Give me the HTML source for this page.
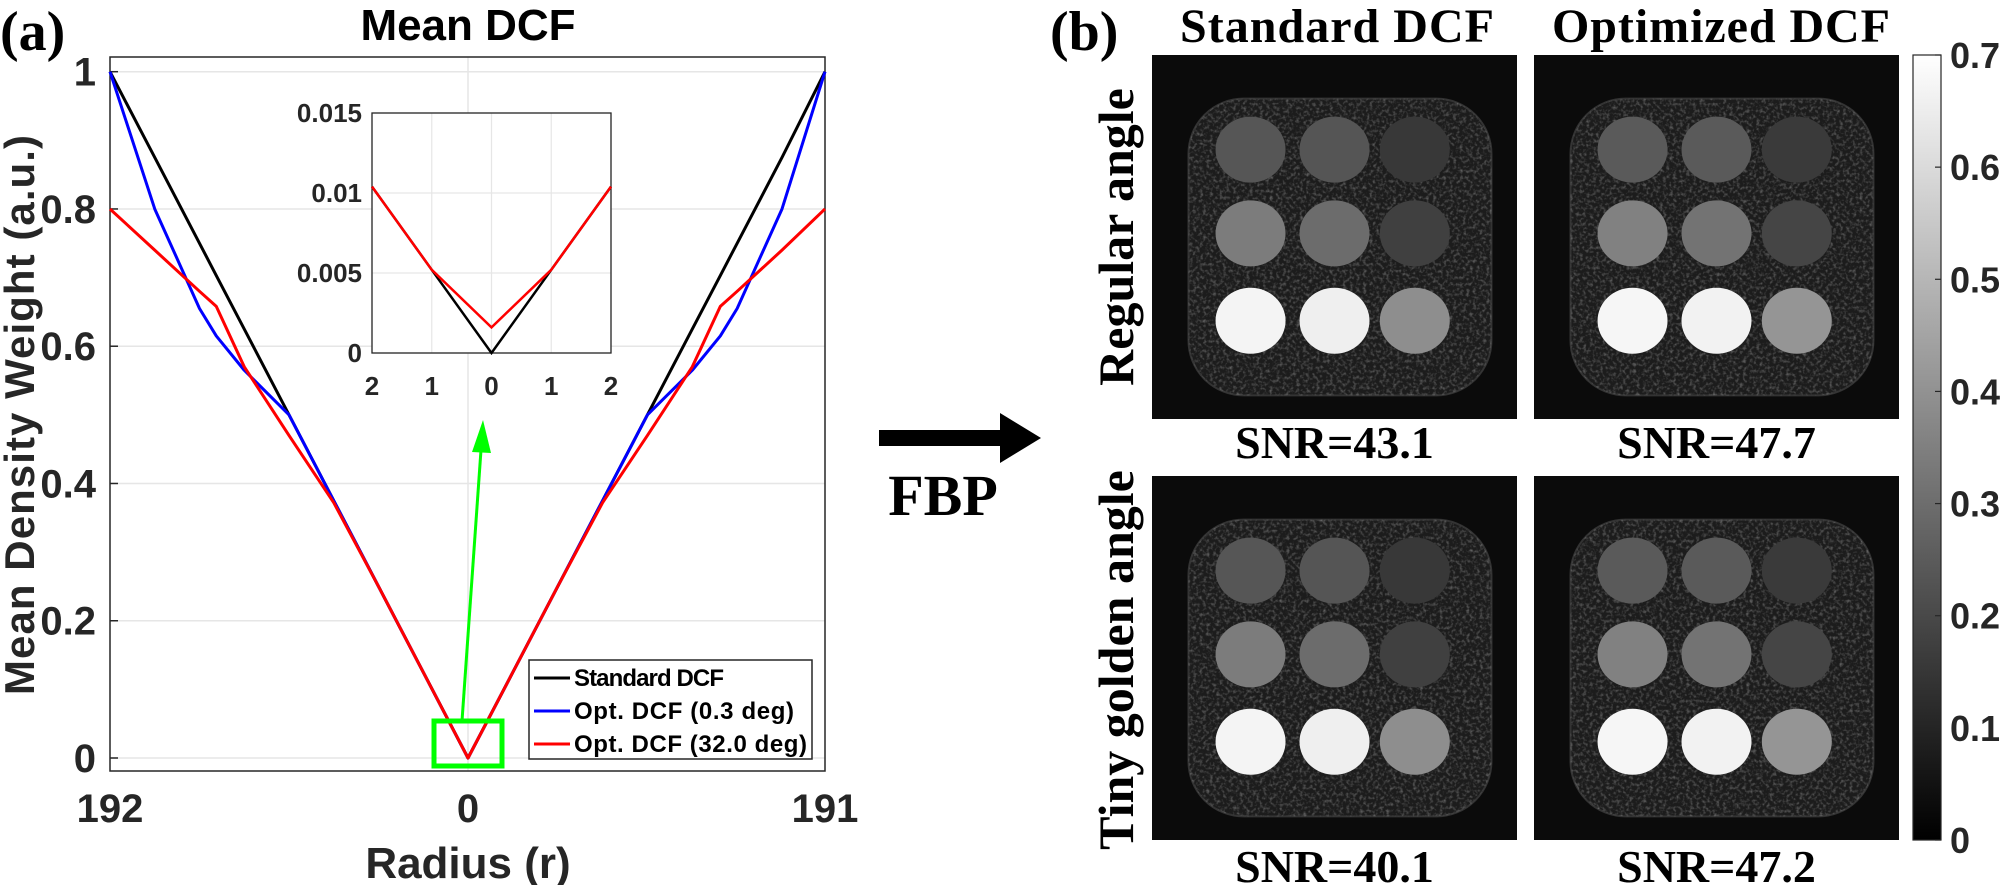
<!DOCTYPE html>
<html><head><meta charset="utf-8"><style>
html,body{margin:0;padding:0;background:#fff;}
svg{display:block;}
.sans{font-family:"Liberation Sans",Arial,sans-serif;font-weight:bold;}
.serif{font-family:"Liberation Serif","Times New Roman",serif;font-weight:bold;}
</style></head><body>
<svg id="fig" width="2000" height="885" viewBox="0 0 2000 885" xmlns="http://www.w3.org/2000/svg">
<defs>
<linearGradient id="cbgrad" x1="0" y1="1" x2="0" y2="0"><stop offset="0" stop-color="#000"/><stop offset="1" stop-color="#fff"/></linearGradient>
<filter id="noise" x="0" y="0" width="100%" height="100%"><feTurbulence type="fractalNoise" baseFrequency="0.3" numOctaves="2" seed="3"/><feColorMatrix type="matrix" values="0 0 0 0 1  0 0 0 0 1  0 0 0 0 1  0 0 0 2.2 -1.0"/></filter>
</defs>
<text class="serif" x="0" y="50" font-size="56">(a)</text>
<text class="sans" x="468" y="40" font-size="44" text-anchor="middle">Mean DCF</text>
<g id="main"></g>
<g id="inset"></g>
<g>
<rect x="879" y="430" width="124" height="16" fill="#000"/>
<polygon points="1000,413 1041,438 1000,463" fill="#000"/>
</g>
<text class="serif" x="943" y="515" font-size="58" text-anchor="middle">FBP</text>
<text class="serif" x="1050" y="50" font-size="56">(b)</text>
<text class="serif" x="1337" y="42" font-size="48" text-anchor="middle" textLength="314">Standard DCF</text>
<text class="serif" x="1721" y="42" font-size="48" text-anchor="middle" textLength="338">Optimized DCF</text>
<text class="serif" font-size="50" text-anchor="middle" transform="translate(1133,237) rotate(-90)">Regular angle</text>
<text class="serif" font-size="50" text-anchor="middle" transform="translate(1133,660) rotate(-90)">Tiny golden angle</text>
<g id="imgs"></g>
<g id="cbar"></g>
</svg>
<script>
const NS='http://www.w3.org/2000/svg';
const radii=[0,24,48,72,96,120,135,144,168,192];
const standardDCF=[0,0.125,0.25,0.375,0.5,0.625,0.703,0.75,0.875,1.0];
const optDCF03=[0,0.125,0.25,0.375,0.5,0.565,0.615,0.655,0.80,1.0];
const optDCF32=[0,0.125,0.25,0.372,0.47,0.57,0.658,0.68,0.74,0.80];
const yTicks=[0,0.2,0.4,0.6,0.8,1];
const yTickLabels=['0','0.2','0.4','0.6','0.8','1'];
const xTickLabels=['192','0','191'];
const insetX=[-2,-1,0,1,2];
const insetStd=[0.0104,0.0052,0,0.0052,0.0104];
const insetOpt=[0.0104,0.0052,0.0016,0.0052,0.0104];
const insetYTicks=[0,0.005,0.01,0.015];
const insetYLabels=['0','0.005','0.01','0.015'];
const insetXLabels=['2','1','0','1','2'];
const cbTicks=[0,0.1,0.2,0.3,0.4,0.5,0.6,0.7];
const snrValues=['43.1','47.7','40.1','47.2'];

function mk(tag,attrs,parent){const e=document.createElementNS(NS,tag);for(const k in attrs)e.setAttribute(k,attrs[k]);parent.appendChild(e);return e;}

const L=110,R=825,T=57,B=771,CX=468;
const y0=758,y1=71.7;
const Y=v=>y0-(y0-y1)*v;
const XL=r=>CX-(CX-L)*r/192;
const XR=r=>CX+(R-CX)*r/191;
const main=document.getElementById('main');
yTicks.forEach((t,i)=>{
  const g=mk('line',{x1:L,x2:R,y1:Y(t),y2:Y(t),stroke:'#e6e6e6','stroke-width':1.5},main);
  
  
  const tk=mk('line',{x1:L,x2:L+8,y1:Y(t),y2:Y(t),stroke:'#262626','stroke-width':1.5},main);
  
  
  const tx=mk('text',{x:96,y:Y(t)+14,'font-size':40,'text-anchor':'end',class:'sans',fill:'#262626'},main);
  tx.textContent=yTickLabels[i];
  
  
});
const vg=mk('line',{x1:CX,x2:CX,y1:T,y2:B,stroke:'#e6e6e6','stroke-width':1.5},main);


const box=mk('rect',{x:L,y:T,width:R-L,height:B-T,fill:'none',stroke:'#262626','stroke-width':1.5},main);


[[L,xTickLabels[0]],[CX,xTickLabels[1]],[R,xTickLabels[2]]].forEach(([x,s])=>{
  const t=mk('text',{x:x,y:822,'font-size':40,'text-anchor':'middle',class:'sans',fill:'#262626'},main);
  t.textContent=s;
  
  
});
const xt=mk('text',{x:CX,y:878,'font-size':44,'text-anchor':'middle',class:'sans',fill:'#262626'},main);
xt.textContent='Radius (r)';


const yt=mk('text',{transform:'translate(34,415) rotate(-90)','font-size':42,'text-anchor':'middle',class:'sans',fill:'#262626',textLength:560},main);
yt.textContent='Mean Density Weight (a.u.)';



function seriesPts(vals){
  const p=[];
  for(let i=radii.length-1;i>=0;i--)p.push(XL(radii[i])+','+Y(vals[i]));
  for(let i=1;i<radii.length;i++)p.push(XR(Math.min(radii[i],191))+','+Y(vals[i]));
  return p.join(' ');
}
[[standardDCF,'#000','line-standard-dcf'],[optDCF03,'#0000ff','line-opt-dcf-0-3'],[optDCF32,'#ff0000','line-opt-dcf-32']].forEach(([v,c,n])=>{
  const pl=mk('polyline',{points:seriesPts(v),fill:'none',stroke:c,'stroke-width':3,'stroke-linejoin':'round'},main);
  
  
});
const gb=mk('rect',{x:434,y:721,width:68,height:45,fill:'none',stroke:'#00ff00','stroke-width':5},main);


const ga=mk('line',{x1:462,y1:721,x2:481,y2:450,stroke:'#00ff00','stroke-width':3},main);


const gh=mk('polygon',{points:'483,420 472,452 491,453',fill:'#00ff00'},main);


const lg=mk('g',{},main);


mk('rect',{x:529,y:660,width:283,height:99,fill:'#fff',stroke:'#262626','stroke-width':1.5},lg);
[['Standard DCF','#000',678,150],['Opt. DCF (0.3 deg)','#0000ff',711,220],['Opt. DCF (32.0 deg)','#ff0000',744,233]].forEach(([s,c,y,w])=>{
  const e=mk('g',{},lg);
  
  
  mk('line',{x1:534,x2:570,y1:y,y2:y,stroke:c,'stroke-width':3},e);
  const t=mk('text',{x:574,y:y+8,'font-size':24,class:'sans',fill:'#000',textLength:w},e);
  t.textContent=s;
});
const inset=document.getElementById('inset');
const IL=372,IR=611,IT=113,IB=353;
const IX=v=>IL+(IR-IL)*(v+2)/4;
const IY=v=>IB-(IB-IT)*v/0.015;
mk('rect',{x:IL,y:IT,width:IR-IL,height:IB-IT,fill:'#fff'},inset);
insetYTicks.forEach((t,i)=>{
  const g=mk('line',{x1:IL,x2:IR,y1:IY(t),y2:IY(t),stroke:'#e6e6e6','stroke-width':1.2},inset);
  
  
  const tx=mk('text',{x:362,y:IY(t)+9,'font-size':26,'text-anchor':'end',class:'sans',fill:'#262626'},inset);
  tx.textContent=insetYLabels[i];
  
  
});
insetX.forEach((v,i)=>{
  const g=mk('line',{x1:IX(v),x2:IX(v),y1:IT,y2:IB,stroke:'#e6e6e6','stroke-width':1.2},inset);
  
  
  const tx=mk('text',{x:IX(v),y:395,'font-size':26,'text-anchor':'middle',class:'sans',fill:'#262626'},inset);
  tx.textContent=insetXLabels[i];
  
  
});
const ib=mk('rect',{x:IL,y:IT,width:IR-IL,height:IB-IT,fill:'none',stroke:'#262626','stroke-width':1.3},inset);


[[insetStd,'#000','inset-line-standard'],[insetOpt,'#ff0000','inset-line-opt']].forEach(([v,c,n])=>{
  const pl=mk('polyline',{points:insetX.map((x,i)=>IX(x)+','+IY(v[i])).join(' '),fill:'none',stroke:c,'stroke-width':2.5},inset);
  
  
});
const imgs=document.getElementById('imgs');
const pos=[[1152,55],[1534,55],[1152,476],[1534,476]];
const grays=[['#565656','#555','#383838','#7c7c7c','#6c6c6c','#404040','#f4f4f4','#efefef','#8e8e8e'],
             ['#5a5a5a','#5a5a5a','#3a3a3a','#818181','#737373','#454545','#f6f6f6','#f2f2f2','#959595']];
pos.forEach(([x,y],k)=>{
  const g=mk('g',{},imgs);
  
  
  const W=365,H=364;
  mk('rect',{x:x,y:y,width:W,height:H,fill:'#0b0b0b'},g);
  const cp=mk('clipPath',{id:'cp'+k},g);
  mk('rect',{x:x+W*0.1,y:y+H*0.12,width:W*0.83,height:H*0.815,rx:55},cp);
  mk('rect',{x:x+W*0.1,y:y+H*0.12,width:W*0.83,height:H*0.815,rx:55,fill:'#1c1c1c',stroke:'#333','stroke-width':2},g);
  mk('rect',{x:x+W*0.1,y:y+H*0.12,width:W*0.83,height:H*0.815,fill:'#fff',filter:'url(#noise)',opacity:0.3,'clip-path':'url(#cp'+k+')'},g);
  const cxs=[0.27,0.50,0.72],cys=[0.26,0.49,0.73];
  const gr=grays[k%2];
  cys.forEach((cy,r)=>cxs.forEach((cx,c)=>{
    mk('ellipse',{cx:x+W*cx,cy:y+H*cy,rx:35,ry:33,fill:gr[r*3+c]},g);
  }));
  const t=mk('text',{x:x+W/2,y:k<2?458:882,'font-size':46,'text-anchor':'middle',class:'serif'},imgs);
  t.textContent='SNR='+snrValues[k];
  
  
});
const cb=document.getElementById('cbar');
const CT=55,CB=840;
mk('rect',{x:1913,y:CT,width:28,height:CB-CT,fill:'url(#cbgrad)',stroke:'#262626','stroke-width':1.2},cb);
cbTicks.forEach(t=>{
  const yy=CB-(CB-CT)*t/0.7;
  mk('line',{x1:1935,x2:1941,y1:yy,y2:yy,stroke:'#262626','stroke-width':1.2},cb);
  const tx=mk('text',{x:1950,y:yy+13,'font-size':36,class:'sans',fill:'#262626'},cb);
  tx.textContent=String(t);
  
  
});
</script>
</body></html>
